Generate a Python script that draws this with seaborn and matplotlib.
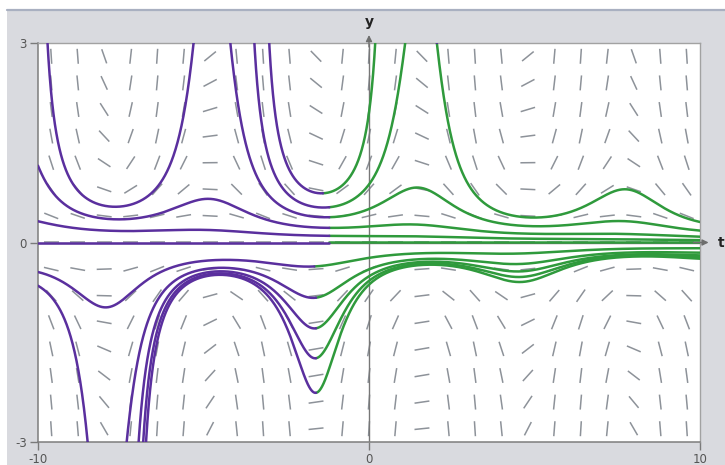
import numpy as np
import pandas as pd
import matplotlib
matplotlib.use("Agg")
import matplotlib.pyplot as plt
import seaborn as sns
from matplotlib.collections import LineCollection
from matplotlib.patches import Rectangle
from matplotlib.lines import Line2D

# ---- data: the equation dy/dt = a*cos(t)*y^2 - c*y and its plotted solutions ----
coef_a = 1.0
coef_c = 0.1
t_limits = [-10, 10]
y_limits = [-3, 3]
x_tick_values = [-10, 0, 10]
y_tick_values = [-3, 0, 3]
field_t = [-9.6 + 0.8 * k for k in range(25)]
field_y = [-2.8 + 0.4 * k for k in range(15)]
# initial points of each solution (purple = backward, green = forward)
curve_t0 = [-5.3, -8.5, 2.05, -1.2, -1.2, -1.2, -1.39, -1.2, -1.2, -1.65, -1.6, -1.6, -1.6, -1.6]
curve_y0 = [3.0, -3.0, 3.0, 0.22, 0.10, 0.0, 0.74, 0.53, 0.38, -0.36, -0.83, -1.29, -1.74, -2.26]

PURPLE = "#5a2f9e"
GREEN = "#2f9a3c"
MARK = "#8d9299"


def slope(t, y):
    return coef_a * np.cos(t) * y * y - coef_c * y


def integrate(t0, y0, t_end, ymax=3.2):
    d = 1.0 if t_end > t0 else -1.0
    t, y = t0, y0
    ts, ys = [t], [y]
    while (t_end - t) * d > 1e-9 and abs(y) < ymax:
        h = min(0.01 / (1.0 + abs(y)), abs(t_end - t)) * d
        k1 = slope(t, y)
        k2 = slope(t + h / 2, y + h * k1 / 2)
        k3 = slope(t + h / 2, y + h * k2 / 2)
        k4 = slope(t + h, y + h * k3)
        y_new = y + h * (k1 + 2 * k2 + 2 * k3 + k4) / 6
        if not np.isfinite(y_new):
            break
        y = y_new
        t = t + h
        ts.append(t)
        ys.append(y)
    return ts, ys


rows = []
for i, (t0, y0) in enumerate(zip(curve_t0, curve_y0)):
    for direction, t_end in (("back", t_limits[0]), ("fwd", t_limits[1])):
        ts, ys = integrate(t0, y0, t_end)
        for tt, yy in zip(ts, ys):
            rows.append((f"{i}-{direction}", direction, tt, yy))
df = pd.DataFrame(rows, columns=["unit", "direction", "t", "y"])

sns.set_theme(style="white")
W, H = 725, 465
fig = plt.figure(figsize=(W / 100, H / 100), dpi=100)
fig.patch.set_facecolor("white")
bg = Rectangle((7 / W, 0), 1 - 7 / W, (H - 10) / H, transform=fig.transFigure,
               facecolor="#d9dadf", edgecolor="none", zorder=-10)
fig.add_artist(bg)
fig.add_artist(Line2D([7 / W, 1], [(H - 10) / H] * 2, color="#a9b0c1", lw=1.6, zorder=-9))

ax = fig.add_axes([38 / W, (H - 442) / H, (700 - 38) / W, (442 - 43) / H])
ax.set_zorder(1)
ax.set_facecolor("white")
ax.set_xlim(*t_limits)
ax.set_ylim(*y_limits)

# slope marks of constant on-screen length
bbox = ax.get_window_extent()
sx = bbox.width / (t_limits[1] - t_limits[0])
sy = bbox.height / (y_limits[1] - y_limits[0])
half = 7.5
segs = []
for tt in field_t:
    for yy in field_y:
        s = slope(tt, yy)
        vx, vy = sx, sy * s
        n = np.hypot(vx, vy)
        dx, dy = half * vx / n / sx, half * vy / n / sy
        segs.append([(tt - dx, yy - dy), (tt + dx, yy + dy)])
ax.add_collection(LineCollection(segs, colors=MARK, linewidths=1.1, zorder=1))

# axes lines
ax.axhline(0, color="#777777", lw=1, zorder=1.5)
ax.axvline(0, color="#777777", lw=1, zorder=1.5)

sns.lineplot(data=df[df["direction"] == "fwd"], x="t", y="y", units="unit", estimator=None,
             sort=False, color=GREEN, linewidth=1.8, legend=False, ax=ax, zorder=3)
sns.lineplot(data=df[df["direction"] == "back"], x="t", y="y", units="unit", estimator=None,
             sort=False, color=PURPLE, linewidth=1.8, legend=False, ax=ax, zorder=3)
ax.set_xlim(*t_limits)
ax.set_ylim(*y_limits)
ax.set_xlabel("")
ax.set_ylabel("")

ax.set_xticks(x_tick_values)
ax.set_yticks(y_tick_values)
ax.set_xticklabels([str(v) for v in x_tick_values])
ax.set_yticklabels([str(v) for v in y_tick_values])
ax.tick_params(axis="both", which="both", direction="out", length=6, width=1, color="#7a7a7a",
               labelcolor="#555555", labelsize=8.5, pad=2, bottom=True, left=True)
for side in ("left", "bottom"):
    ax.spines[side].set_color("#7d7d7d")
    ax.spines[side].set_linewidth(1.1)
for side in ("top", "right"):
    ax.spines[side].set_color("#a2a2a2")
    ax.spines[side].set_linewidth(1.0)

# axis arrows and names
ax.annotate("", xy=(0, 1.02), xycoords=("data", "axes fraction"), xytext=(0, 0.99),
            textcoords=("data", "axes fraction"),
            arrowprops=dict(arrowstyle="-|>", color="#6e6e6e", lw=1, mutation_scale=9,
                            shrinkA=0, shrinkB=0), annotation_clip=False)
ax.annotate("", xy=(1.013, 0), xycoords=("axes fraction", "data"), xytext=(0.99, 0),
            textcoords=("axes fraction", "data"),
            arrowprops=dict(arrowstyle="-|>", color="#6e6e6e", lw=1, mutation_scale=9,
                            shrinkA=0, shrinkB=0), annotation_clip=False)
ax.text(0, 1.052, "y", transform=ax.get_xaxis_transform(), ha="center", va="center",
        fontsize=10, fontweight="bold", color="#222222")
ax.text(1.027, 0, "t", transform=ax.get_yaxis_transform(), ha="left", va="center",
        fontsize=10, fontweight="bold", color="#222222")

fig.savefig("out.png", dpi=100, facecolor=fig.get_facecolor())
